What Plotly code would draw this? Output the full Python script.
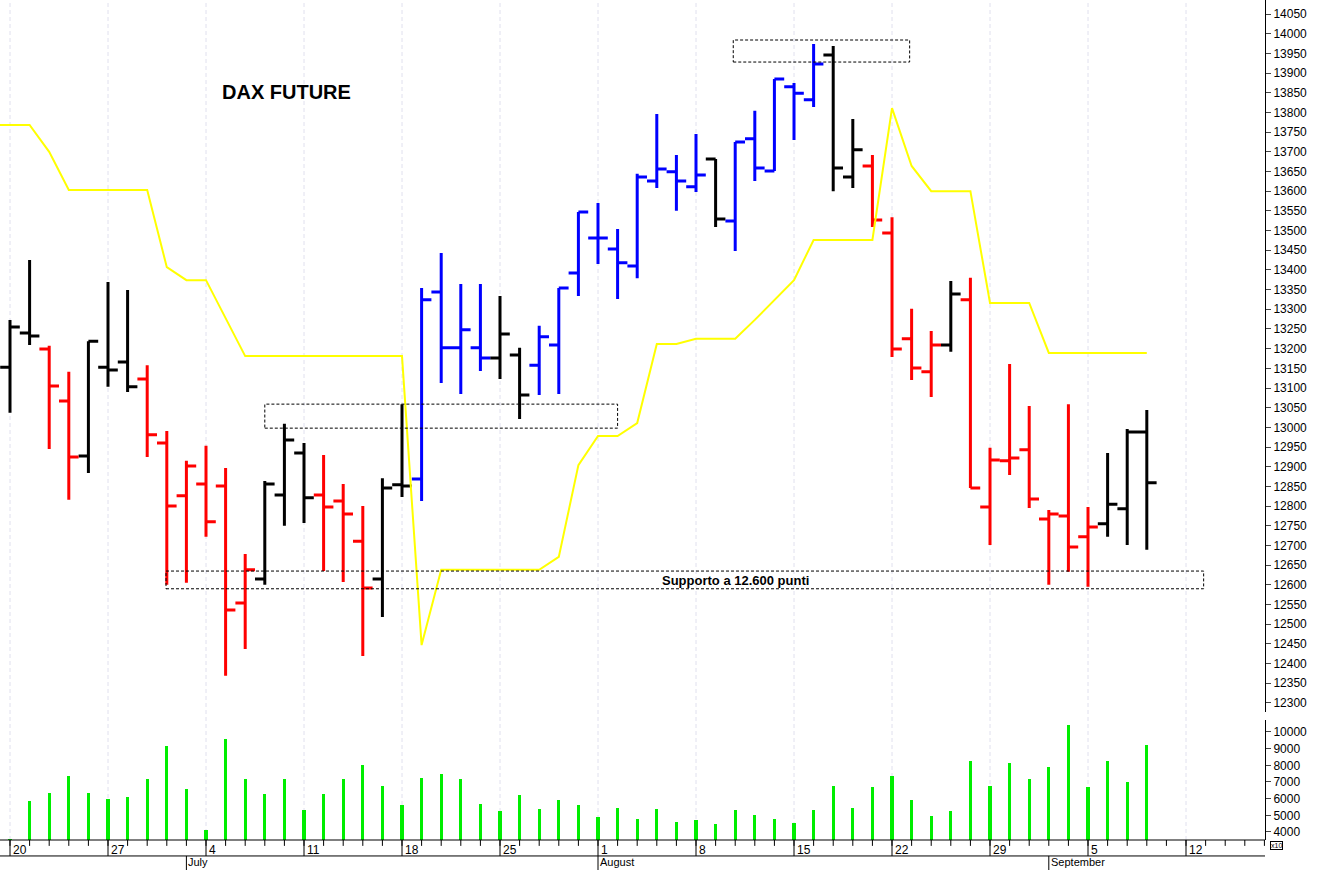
import plotly.graph_objects as go

# ---- data (bar index 0 = 20 June) ----
opens  = [13153,13240,13199,13067,12927,13153,13166,13123,12960,12826,12856,12851,12554,12615,12828,
          12935,12828,12813,12711,12615,12854,12869,13344,13202,13202,13176,13184,13158,13209,13392,
          13481,13453,13410,13626,13649,13611,13682,13524,13733,13651,13865,13832,13946,13636,13664,
          13494,13225,13141,13209,13324,12798,12915,12943,12767,12775,12722,12755,12793,12988]
highs  = [13273,13425,13207,13141,13219,13369,13349,13158,12991,12915,12953,12897,12678,12864,13009,
          12960,12930,12856,12800,12871,13059,13354,13443,13364,13364,13334,13202,13258,13354,13547,
          13570,13504,13644,13796,13692,13745,13682,13725,13804,13885,13875,13974,13969,13783,13692,
          13534,13301,13245,13372,13380,12948,13161,13054,12790,13059,12798,12935,12996,13044]
lows   = [13037,13209,12945,12816,12884,13103,13090,12925,12600,12605,12722,12369,12437,12600,12750,
          12757,12635,12607,12419,12518,12823,12813,13113,13085,13143,13123,13021,13082,13085,13334,
          13415,13326,13379,13608,13550,13598,13509,13448,13626,13651,13730,13814,13600,13608,13509,
          13179,13120,13077,13192,12846,12701,12879,12795,12600,12633,12595,12722,12701,12689]
closes = [13255,13232,13105,12925,13219,13146,13103,12981,12800,12902,12760,12536,12638,12856,12968,
          12821,12798,12780,12592,12846,12851,13324,13202,13248,13176,13237,13082,13230,13354,13547,
          13481,13418,13636,13656,13626,13641,13529,13725,13659,13885,13849,13923,13659,13705,13527,
          13199,13151,13209,13339,12846,12917,12922,12818,12780,12696,12747,12805,12988,12859]
groups = "kkrrkkkrrrrrrkkkrrrkkbbbbkkbbbbbbbbbkbbbbbkkrrrrkrrrrrrrkkk"
volume = [3580,5860,6340,7360,6340,5980,6100,7180,9160,6580,4140,9580,7180,6280,7180,
          5320,6280,7180,8020,6760,5620,7240,7480,7180,5680,5260,6220,5380,5920,5620,
          4900,5440,4780,5380,4600,4720,4480,5320,5020,4780,4540,5320,6760,5440,6700,
          7360,5920,4960,5260,8260,6760,8140,7180,7900,10420,6700,8260,7000,9220]
band   = [13768,13768,13700,13603,13603,13603,13603,13603,13407,13374,13374,13278,13181,13181,13181,
          13181,13181,13181,13181,13181,13181,12447,12638,12638,12638,12638,12638,12638,12671,12904,
          12978,12978,13011,13212,13212,13225,13225,13225,13273,13324,13374,13476,13476,13476,13476,
          13811,13664,13600,13600,13600,13316,13316,13316,13189,13189,13189,13189,13189,13189]
week_idx    = [0,5,10,15,20,25,30,35,40,45,50,55,60]
week_labels = ["20","27","4","11","18","25","1","8","15","22","29","5","12"]
month_idx    = [9,30,53]
month_labels = ["July","August","September"]
price_ticks = list(range(12300,14051,50))
vol_ticks = list(range(4000,10001,1000))

n = len(closes)
idx = list(range(n))
colors = {"k":"#000000","r":"#ff0000","b":"#0000ff"}
FONT = "Liberation Sans"

fig = go.Figure()
for g, c in colors.items():
    sel = [i for i in idx if groups[i] == g]
    fig.add_trace(go.Ohlc(x=sel, open=[opens[i] for i in sel], high=[highs[i] for i in sel],
                          low=[lows[i] for i in sel], close=[closes[i] for i in sel],
                          increasing=dict(line=dict(color=c, width=3)),
                          decreasing=dict(line=dict(color=c, width=3)),
                          tickwidth=0.5, yaxis="y", hoverinfo="skip", showlegend=False))
fig.add_trace(go.Scatter(x=[-0.6]+idx, y=[band[0]]+band, mode="lines",
                         line=dict(color="#ffff00", width=2), yaxis="y", showlegend=False, hoverinfo="skip"))
fig.add_trace(go.Bar(x=idx, y=volume, base=0, width=0.16, marker=dict(color="#00ee00", line=dict(width=0)),
                     yaxis="y2", showlegend=False, hoverinfo="skip"))

shapes = []
for w in week_idx:
    shapes.append(dict(type="line", xref="x", yref="paper", x0=w, x1=w, y0=0, y1=1,
                       line=dict(color="#e0e0ee", width=1, dash="4px,3px"), layer="below"))
    shapes.append(dict(type="line", xref="x", yref="paper", x0=w, x1=w, y0=0, y1=-0.019,
                       line=dict(color="#000", width=1)))
for i in range(-1, 66):
    shapes.append(dict(type="line", xref="x", yref="paper", x0=i, x1=i, y0=0, y1=-0.007,
                       line=dict(color="#000", width=1)))
for m in month_idx:
    shapes.append(dict(type="line", xref="x", yref="paper", x0=m, x1=m, y0=-0.019, y1=-0.04,
                       line=dict(color="#000", width=1)))
shapes.append(dict(type="line", xref="paper", yref="paper", x0=0, x1=1, y0=0, y1=0, line=dict(color="#000", width=1)))
shapes.append(dict(type="line", xref="paper", yref="paper", x0=0, x1=1, y0=-0.019, y1=-0.019, line=dict(color="#000", width=1)))
for x0, x1, y0, y1 in [(13.0, 31.0, 12998, 13059), (36.9, 45.9, 13928, 13984), (7.96, 60.9, 12590, 12635)]:
    shapes.append(dict(type="rect", xref="x", yref="y", x0=x0, x1=x1, y0=y0, y1=y1,
                       line=dict(color="#000", width=1, dash="3px,2px")))

ann = []
for w, t in zip(week_idx, week_labels):
    ann.append(dict(x=w, y=-0.001, xref="x", yref="paper", text=t, showarrow=False, xanchor="left",
                    yanchor="top", xshift=1, font=dict(size=12, color="#000", family=FONT)))
for m, t in zip(month_idx, month_labels):
    ann.append(dict(x=m, y=-0.019, xref="x", yref="paper", text=t, showarrow=False, xanchor="left",
                    yanchor="top", xshift=0, yshift=2, font=dict(size=11, color="#000", family=FONT)))
ann.append(dict(x=10.7, y=13852, xref="x", yref="y", text="<b>DAX FUTURE</b>", showarrow=False,
                xanchor="left", yanchor="middle", font=dict(size=20, color="#000", family=FONT)))
ann.append(dict(x=37.0, y=12612, xref="x", yref="y", text="<b>Supporto a 12.600 punti</b>", showarrow=False,
                xanchor="center", yanchor="middle", font=dict(size=13, color="#000", family=FONT)))
ann.append(dict(x=1.004, y=-0.012, xref="paper", yref="paper", text="x10", showarrow=False, xanchor="left",
                yanchor="bottom", bordercolor="#000", borderwidth=1, borderpad=0,
                font=dict(size=7, color="#000", family=FONT)))

fig.update_layout(
    width=1321, height=870, paper_bgcolor="white", plot_bgcolor="white",
    margin=dict(l=0, r=56, t=0, b=30, autoexpand=False), bargap=0,
    xaxis=dict(range=[-0.51, 64.03], showticklabels=False, showgrid=False, zeroline=False,
               rangeslider=dict(visible=False), fixedrange=True),
    yaxis=dict(domain=[0.1524, 1], range=[12277, 14085.6], side="right", tickvals=price_ticks,
               tickformat="d", ticks="outside", ticklen=5, showgrid=False, zeroline=False, showline=True,
               linecolor="#000", tickfont=dict(size=12, color="#000", family=FONT)),
    yaxis2=dict(domain=[0, 0.1429], range=[3520, 10720], side="right", tickvals=vol_ticks,
                tickformat="d", ticks="outside", ticklen=5, showgrid=False, zeroline=False, showline=True,
                linecolor="#000", tickfont=dict(size=12, color="#000", family=FONT)),
    shapes=shapes, annotations=ann, showlegend=False,
)
fig.write_html("out.html", config={"displayModeBar": False},
               post_script="document.body.style.margin='0';document.body.style.overflow='hidden';")
